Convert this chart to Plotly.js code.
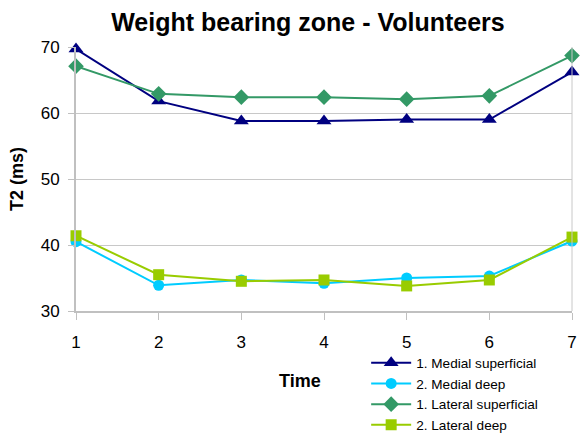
<!DOCTYPE html>
<html><head><meta charset="utf-8">
<script src="https://cdn.plot.ly/plotly-3.0.1.min.js"></script>
<style>html,body{margin:0;padding:0;background:#fff}#chart{width:580px;height:435px}</style>
</head><body><div id="chart"></div>
<script>
const times = [1, 2, 3, 4, 5, 6, 7];
const medialSuperficial = [69.7, 61.8, 58.8, 58.8, 59.0, 59.0, 66.2];
const medialDeep = [40.5, 33.9, 34.7, 34.2, 35.0, 35.3, 40.6];
const lateralSuperficial = [67.1, 62.9, 62.4, 62.4, 62.1, 62.6, 68.7];
const lateralDeep = [41.4, 35.5, 34.5, 34.7, 33.8, 34.7, 41.2];
const seriesNames = ["1. Medial superficial", "2. Medial deep", "1. Lateral superficial", "2. Lateral deep"];

const mk = (y, name, color, symbol, size) => ({
  x: times, y: y, name: name, type: 'scatter', mode: 'lines+markers', cliponaxis: false,
  line: {color: color, width: 2},
  marker: {color: color, symbol: symbol, size: size}
});
const data = [
  mk(medialSuperficial, seriesNames[0], '#000080', 'triangle-up', 13),
  mk(medialDeep, seriesNames[1], '#00CCFF', 'circle', 11),
  mk(lateralSuperficial, seriesNames[2], '#339966', 'diamond', 12),
  mk(lateralDeep, seriesNames[3], '#99CC00', 'square', 11)
];
const layout = {
  width: 580, height: 435,
  margin: {l: 76, r: 8, t: 47, b: 124, autoexpand: false},
  paper_bgcolor: '#fff', plot_bgcolor: '#fff',
  font: {family: 'Arial, Liberation Sans, sans-serif', size: 17, color: '#000'},
  title: {text: '<b>Weight bearing zone - Volunteers</b>', font: {size: 25}, x: 0.531, xanchor: 'center', y: 0.95, yanchor: 'middle'},
  xaxis: {
    range: [1, 7], tickvals: times, showgrid: false, zeroline: false, automargin: false,
    showline: true, linecolor: '#c0c0c0', linewidth: 2, mirror: false,
    ticks: 'outside', ticklen: 7, tickcolor: '#c0c0c0', tickwidth: 1, ticklabelstandoff: 8
  },
  yaxis: {
    range: [30, 70], dtick: 10, showgrid: true, gridcolor: '#c8c8c8', gridwidth: 1, automargin: false,
    zeroline: false, showline: true, linecolor: '#c0c0c0', linewidth: 2,
    ticks: 'outside', ticklen: 6, tickcolor: '#c0c0c0', ticklabelstandoff: 5,
    title: {text: '<b>T2 (ms)</b>', font: {size: 18}, standoff: 12}
  },
  annotations: [{text: '<b>Time</b>', xref: 'paper', yref: 'paper', x: (300 - 76) / 496, y: -70 / 264, xanchor: 'center', yanchor: 'middle', showarrow: false, font: {size: 18}}],
  shapes: [{type: 'line', xref: 'paper', yref: 'paper', x0: 1, x1: 1, y0: 0, y1: 1, line: {color: '#c8c8c8', width: 1}}],
  showlegend: true,
  legend: {x: 0.585, y: -0.138, xanchor: 'left', yanchor: 'top', font: {size: 13.6}, tracegroupgap: 0, itemwidth: 40, bgcolor: 'rgba(0,0,0,0)'}
};
Plotly.newPlot('chart', data, layout, {displayModeBar: false, staticPlot: true});
</script></body></html>
